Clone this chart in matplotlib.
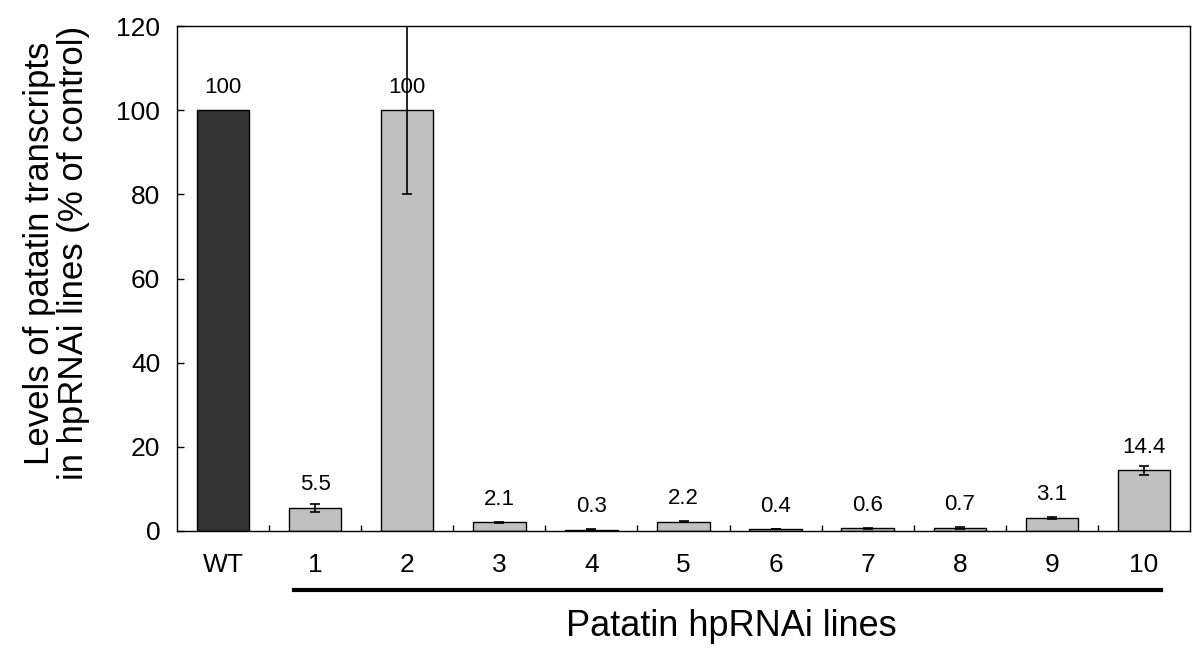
import numpy as np
import matplotlib.pyplot as plt
from matplotlib.ticker import FixedLocator

plt.rcParams['font.family'] = ['Liberation Sans', 'DejaVu Sans']

# data
labels = ["WT", "1", "2", "3", "4", "5", "6", "7", "8", "9", "10"]
values = [100, 5.5, 100, 2.1, 0.3, 2.2, 0.4, 0.6, 0.7, 3.1, 14.4]
errors = [0, 1.0, 20, 0.1, 0.05, 0.1, 0.05, 0.1, 0.2, 0.3, 1.0]
value_text = ["100", "5.5", "100", "2.1", "0.3", "2.2", "0.4", "0.6", "0.7", "3.1", "14.4"]
colors = ["#333333"] + ["#c0c0c0"] * 10

fig = plt.figure(figsize=(12, 6.6), dpi=100)
ax = fig.add_axes([0.1475, 0.1955, 0.8442, 0.765])

x = np.arange(len(labels))
ax.bar(x, values, width=0.57, color=colors, edgecolor="black", linewidth=1.0, zorder=2)
ax.errorbar(x[1:], values[1:], yerr=errors[1:], fmt="none", ecolor="black",
            elinewidth=1.2, capsize=3.5, capthick=1.2, zorder=3)

# numbers over the bars
for xi, v, t in zip(x, values, value_text):
    ax.text(xi, v + 3, t, ha="center", va="bottom", fontsize=16)

ax.set_xlim(-0.5, 10.5)
ax.set_ylim(0, 120)
ax.set_yticks(np.arange(0, 121, 20))
ax.set_xticks(x)
ax.set_xticklabels(labels)
ax.xaxis.set_minor_locator(FixedLocator(np.arange(0.5, 10, 1)))
ax.tick_params(axis="x", which="major", length=0, pad=16, labelsize=19)
ax.tick_params(axis="x", which="minor", direction="in", length=4, width=1)
ax.tick_params(axis="y", direction="in", length=5, width=1, labelsize=19, pad=12)
for s in ax.spines.values():
    s.set_linewidth(1.0)

ax.set_ylabel("Levels of patatin transcripts\nin hpRNAi lines (% of control)",
              fontsize=25, linespacing=1.05)
ax.yaxis.set_label_coords(-0.086, 0.55)

# bracket line under the hpRNAi lines
trans = ax.get_xaxis_transform()
ax.plot([0.77, 10.18], [-0.117, -0.117], color="black", linewidth=3,
        transform=trans, clip_on=False)
ax.text(5.52, -0.19, "Patatin hpRNAi lines", transform=trans, ha="center",
        va="center", fontsize=26)

fig.savefig("out.png", dpi=100)
